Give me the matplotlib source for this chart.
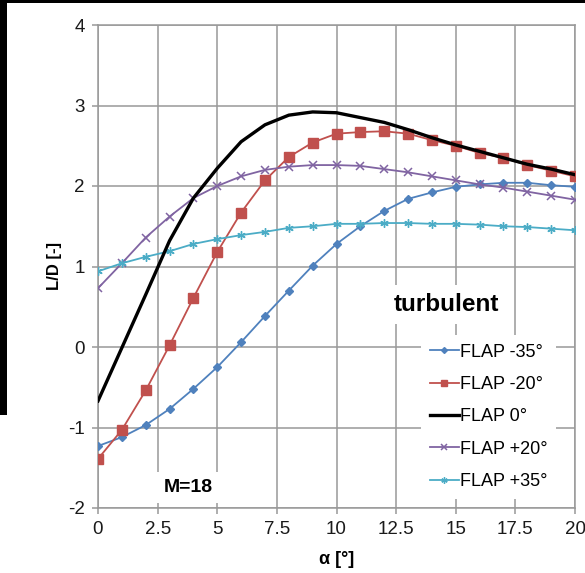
import matplotlib
matplotlib.use("Agg")
import matplotlib.pyplot as plt
from matplotlib.patches import Rectangle

plt.rcParams['font.family'] = ['Liberation Sans', 'DejaVu Sans']
plt.rcParams['axes.unicode_minus'] = False

alpha = list(range(0, 21))
flap_m35 = [-1.23, -1.12, -0.97, -0.77, -0.52, -0.25, 0.06, 0.385, 0.70, 1.01, 1.28,
            1.50, 1.69, 1.84, 1.92, 1.99, 2.02, 2.04, 2.04, 2.01, 1.99]
flap_m20 = [-1.39, -1.03, -0.54, 0.02, 0.61, 1.18, 1.67, 2.07, 2.36, 2.54, 2.65,
            2.67, 2.68, 2.65, 2.57, 2.50, 2.41, 2.35, 2.26, 2.19, 2.12]
flap_0 = [-0.67, -0.01, 0.65, 1.32, 1.85, 2.22, 2.55, 2.76, 2.88, 2.92, 2.91,
          2.85, 2.79, 2.70, 2.60, 2.51, 2.43, 2.35, 2.27, 2.21, 2.14]
flap_p20 = [0.73, 1.04, 1.36, 1.62, 1.85, 2.00, 2.12, 2.20, 2.24, 2.26, 2.26,
            2.25, 2.21, 2.17, 2.12, 2.07, 2.02, 1.98, 1.93, 1.88, 1.83]
flap_p35 = [0.94, 1.04, 1.12, 1.19, 1.28, 1.34, 1.39, 1.43, 1.48, 1.50, 1.53,
            1.53, 1.54, 1.54, 1.53, 1.53, 1.52, 1.50, 1.49, 1.47, 1.45]

labels = ['FLAP -35°', 'FLAP -20°', 'FLAP 0°', 'FLAP +20°', 'FLAP +35°']
xticks = [0, 2.5, 5, 7.5, 10, 12.5, 15, 17.5, 20]
xtick_labels = ['0', '2.5', '5', '7.5', '10', '12.5', '15', '17.5', '20']
yticks = [-2, -1, 0, 1, 2, 3, 4]

fig = plt.figure(figsize=(5.85, 5.73), dpi=100)
ax = fig.add_axes([98/585, 1-508/573, (575-98)/585, (508-25)/573])

ax.plot(alpha, flap_m35, color='#4F81BD', lw=1.3, marker='D', ms=4, label=labels[0], zorder=3)
ax.plot(alpha, flap_m20, color='#C0504D', lw=1.3, marker='s', ms=6.5, label=labels[1], zorder=3)
ax.plot(alpha, flap_0, color='black', lw=2.4, label=labels[2], zorder=4)
ax.plot(alpha, flap_p20, color='#8064A2', lw=1.3, marker='x', ms=6, mew=1.1, label=labels[3], zorder=3)
ax.plot(alpha, flap_p35, color='#4BACC6', lw=1.3, marker=(6, 2, 0), ms=6, mew=1.0, label=labels[4], zorder=3)

ax.set_xlim(0, 20)
ax.set_ylim(-2, 4)
ax.set_xticks(xticks)
ax.set_xticklabels(xtick_labels)
ax.set_yticks(yticks)
ax.grid(True, color='#999999', lw=1.1, zorder=0)
ax.set_axisbelow(True)
for s in ax.spines.values():
    s.set_color('#999999')
    s.set_linewidth(1.1)
ax.tick_params(axis='both', direction='out', length=4.5, width=1.1, color='#999999',
               labelsize=13.5, labelcolor='#1a1a1a', pad=5)

ax.set_xlabel('α [°]', fontsize=13, fontweight='bold', labelpad=9)
ax.set_ylabel('L/D [-]', fontsize=12, fontweight='bold', labelpad=4)

ax.text(14.6, 0.53, 'turbulent', fontsize=17.5, fontweight='bold', ha='center', va='center',
        bbox=dict(facecolor='white', edgecolor='none', pad=6), zorder=5)
ax.text(3.8, -1.75, 'M=18', fontsize=14, fontweight='bold', ha='center', va='center',
        bbox=dict(facecolor='white', edgecolor='none', pad=5), zorder=5)

leg = ax.legend(loc='lower right', bbox_to_anchor=(0.98, 0.0), frameon=True, fontsize=13,
                handlelength=1.6, handletextpad=0.05, labelspacing=0.85, borderpad=0.5,
                markerscale=0.75)
leg.get_frame().set_edgecolor('none')
leg.get_frame().set_facecolor('white')
leg.get_frame().set_alpha(1.0)
leg.set_zorder(6)

# screenshot borders
fig.patches.append(Rectangle((0, 1-415/573), 7/585, 415/573, transform=fig.transFigure,
                             facecolor='black', edgecolor='none', zorder=10))
fig.patches.append(Rectangle((0, 1-3/573), 1, 3/573, transform=fig.transFigure,
                             facecolor='black', edgecolor='none', zorder=10))

fig.savefig('out.png', dpi=100)
